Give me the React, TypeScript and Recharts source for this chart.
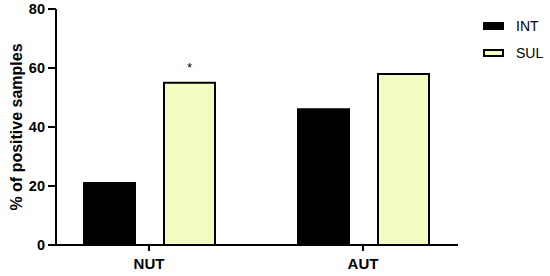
import React from "react"
import { BarChart, Bar, XAxis, YAxis, LabelList } from "recharts"

const groups = ["NUT", "AUT"]
const intValues = [21, 46]
const sulValues = [55, 58]
const sulMarks = ["*", ""]
const yTicks = [0, 20, 40, 60, 80]

const SUL_FILL = "#f3fcc0"
const FONT = "'Liberation Sans', Arial, sans-serif"

const data = groups.map((g, i) => ({
  group: g,
  INT: intValues[i],
  SUL: sulValues[i],
  mark: sulMarks[i],
}))

function LegendBox() {
  const items = [
    { name: "INT", fill: "#000" },
    { name: "SUL", fill: SUL_FILL },
  ]
  return (
    <div style={{ fontFamily: FONT }}>
      {items.map((it) => (
        <div key={it.name} style={{ display: "flex", alignItems: "center", height: 27 }}>
          <div
            style={{
              width: 17,
              height: 4,
              background: it.fill,
              border: "2px solid #000",
              marginRight: 12,
            }}
          />
          <span style={{ fontSize: 14, color: "#000" }}>{it.name}</span>
        </div>
      ))}
    </div>
  )
}

export default function App() {
  return (
    <div style={{ position: "absolute", left: 0, top: 0, width: 550, height: 276, background: "#fff" }}>
      <BarChart
        width={550}
        height={276}
        data={data}
        margin={{ top: 9, right: 92, bottom: 1, left: 0 }}
        barSize={51}
        barGap={29}
      >
        <XAxis
          dataKey="group"
          padding={{ left: -14, right: -12 }}
          axisLine={{ stroke: "#000", strokeWidth: 2 }}
          tickLine={{ stroke: "#000", strokeWidth: 2 }}
          tickSize={6}
          tickMargin={7}
          height={30}
          tick={{ fill: "#000", fontSize: 15, fontWeight: "bold", fontFamily: FONT }}
        />
        <YAxis
          width={56}
          domain={[0, 80]}
          ticks={yTicks}
          axisLine={{ stroke: "#000", strokeWidth: 2 }}
          tickLine={{ stroke: "#000", strokeWidth: 2 }}
          tickSize={8}
          tickMargin={3}
          tick={{ fill: "#000", fontSize: 14.5, fontWeight: "bold", fontFamily: FONT }}
          label={{
            value: "% of positive samples",
            angle: -90,
            position: "center",
            dx: -12,
            style: { fill: "#000", fontSize: 16, fontWeight: "bold", fontFamily: FONT, textAnchor: "middle" },
          }}
        />
        <Bar dataKey="INT" fill="#000" stroke="#000" strokeWidth={2} isAnimationActive={false} />
        <Bar dataKey="SUL" fill={SUL_FILL} stroke="#000" strokeWidth={2} isAnimationActive={false}>
          <LabelList dataKey="mark" position="top" offset={11} style={{ fill: "#000", fontSize: 13, fontFamily: FONT }} />
        </Bar>
      </BarChart>
      <div style={{ position: "absolute", left: 483, top: 12 }}>
        <LegendBox />
      </div>
    </div>
  )
}
